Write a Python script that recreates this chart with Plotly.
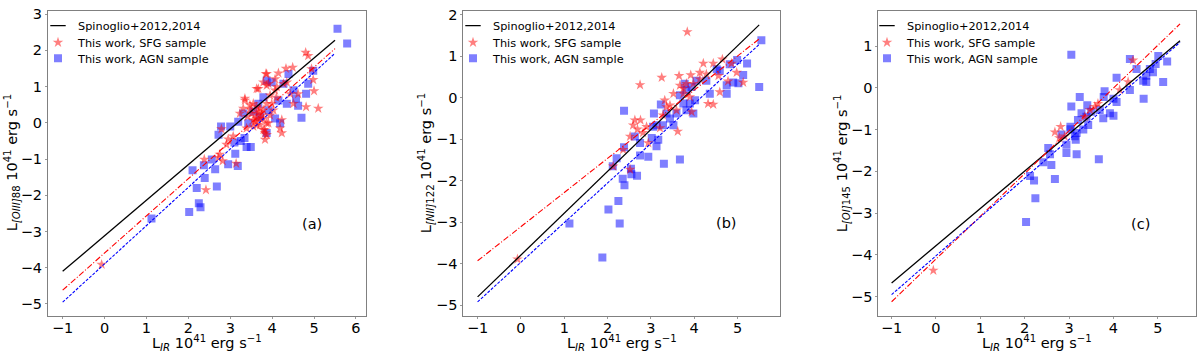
import plotly.graph_objects as go

# ---------------- data ----------------
# Panel (a): [OIII]88
a_sfg_x = [-0.07, 2.42, 2.38, 2.75, 2.72, 2.82, 2.91, 2.79, 3.14, 3.35, 3.47, 3.41, 3.63, 3.71, 3.83, 3.87,
           4.23, 4.23, 4.80, 4.86, 4.94, 4.98, 5.00, 5.10, 4.81, 4.62, 4.49, 4.33, 4.15, 3.87, 3.63, 3.79,
           4.07, 3.95, 3.87, 3.55, 3.71, 4.03, 3.07, 3.63, 3.31, 3.51, 3.79, 3.99, 4.27, 3.87, 4.07, 3.55,
           4.43, 4.51, 4.35, 3.23, 3.79, 3.55, 3.39, 3.91, 2.95, 3.60, 3.75, 4.10, 3.68, 3.82,
           3.85, 3.67, 3.91, 4.11, 3.35, 3.47, 3.63, 3.79, 3.95, 3.71, 3.87, 3.63, 4.19, 3.83]
a_sfg_y = [-3.91, -1.85, -1.01, -0.87, -0.96, -1.05, -0.60, -0.17, -1.12, 0.62, 0.37, 0.17, 0.12, -0.06, -0.46, -0.33,
           -0.28, 0.08, 1.94, 1.85, 1.49, 1.19, 0.88, 0.40, 0.44, 0.80, 1.53, 1.50, 1.37, 1.35, 0.94, 1.12,
           0.90, 0.76, 0.53, 0.53, 0.40, 0.35, -0.37, 0.26, 0.40, 0.26, 0.12, 0.53, 1.08, 1.03, 1.21, 0.08,
           0.80, 0.53, 1.12, 0.26, -0.19, -0.10, -0.15, -0.01, -0.45, 0.05, 0.20, 0.70, 0.30, -0.20,
           1.35, 0.94, 1.08, 0.99, 0.67, 0.49, 0.44, 0.35, 0.21, 0.12, -0.01, -0.06, -0.15, -0.28]
a_agn_x = [5.56, 5.79, 2.02, 2.25, 2.29, 2.20, 2.10, 2.39, 2.68, 2.64, 2.37, 2.56, 2.95, 3.18, 3.12, 3.10,
           2.72, 2.78, 3.34, 3.39, 3.49, 3.31, 3.19, 1.12, 4.62, 4.70, 4.81, 4.86, 4.98, 4.57, 4.39, 4.35,
           3.87, 3.79, 3.87, 4.19, 4.07, 3.71, 3.55, 3.91, 4.15, 4.51, 3.99, 4.27, 3.67, 3.43, 3.00, 3.25]
a_agn_y = [2.60, 2.19, -2.46, -2.22, -2.33, -1.80, -1.31, -1.52, -1.76, -1.28, -1.17, -1.01, -1.14, -1.19, -0.85, -0.54,
           -0.33, -0.10, -0.42, -0.67, -0.67, 0.26, 0.03, -2.64, 0.47, 0.14, 0.80, 1.08, 1.44, 0.67, 1.35, 0.53,
           1.17, 0.71, -0.28, -0.01, 0.12, 0.17, 0.31, 0.35, 0.62, 0.90, 1.12, 1.08, 0.53, -0.01, -0.10, -0.50]

# Panel (b): [NII]122
b_sfg_x = [-0.08, 3.84, 2.75, 3.25, 3.65, 3.92, 4.21, 4.44, 4.65, 4.86, 4.98, 5.13, 4.78, 4.59, 4.32, 4.44,
           3.94, 3.62, 2.52, 2.13, 2.36, 2.52, 2.63, 2.76, 2.69, 2.82, 2.90, 2.94, 3.21, 3.32, 3.36, 3.44,
           3.59, 3.75, 3.82, 3.98, 4.13, 4.28, 3.75, 3.90, 3.28, 3.52, 3.67, 4.13, 4.56, 2.59]
b_sfg_y = [-3.89, 1.59, 0.31, 0.49, 0.53, 0.55, 0.83, 0.83, 0.93, 0.83, 0.61, 0.37, 0.40, 0.14, -0.14, -0.16,
           -0.34, -0.81, -1.73, -1.65, -1.25, -0.93, -0.54, -0.54, -0.76, -0.84, -0.70, -1.09, -0.73, -0.06, -0.22, -0.18,
           -0.30, 0.10, 0.34, 0.34, 0.45, 0.57, 0.22, 0.02, -0.42, 0.10, 0.30, 0.61, 0.53, -0.66]
b_agn_x = [5.55, 5.50, 5.22, 5.13, 4.99, 5.02, 4.82, 4.75, 4.75, 4.90, 4.59, 4.36, 4.52, 4.28, 4.05, 4.02,
           3.98, 3.82, 3.75, 3.82, 3.78, 3.94, 3.90, 3.67, 3.59, 3.44, 3.36, 3.23, 3.07, 3.13, 3.28, 3.52,
           3.05, 3.17, 3.13, 3.02, 2.75, 2.94, 2.75, 2.68, 2.54, 2.55, 2.35, 2.39, 2.38, 2.21, 2.12, 2.25,
           2.02, 2.28, 1.88, 1.12, 2.38, 3.30, 3.67, 2.63]
b_agn_y = [1.39, 0.26, 0.83, 0.55, 0.91, 0.35, 0.81, 0.10, 0.30, 0.37, 0.65, 0.10, 0.69, 0.41, 0.41, -0.06,
           -0.38, -0.30, -0.14, 0.18, 0.34, 0.26, -0.14, 0.06, -0.38, -0.50, -0.38, -0.16, -0.38, -0.66, -0.66, -0.66,
           -0.70, -1.01, -1.17, -0.97, -1.09, -1.42, -1.39, -1.88, -1.71, -1.84, -1.95, -2.11, -1.19, -1.46, -1.65, -2.49,
           -2.69, -3.03, -3.85, -3.03, -0.31, -1.59, -1.49, -0.93]

# Panel (c): [OI]145
c_sfg_x = [-0.06, 4.44, 2.68, 2.81, 2.78, 2.90, 3.35, 3.47, 3.58, 3.65, 4.14, 4.33]
c_sfg_y = [-4.37, 0.66, -1.06, -0.93, -1.20, -1.16, -0.69, -0.53, -0.45, -0.38, -0.05, 0.14]
c_agn_x = [3.05, 5.01, 4.37, 5.21, 4.95, 4.82, 4.89, 4.74, 4.67, 4.74, 4.52, 5.12, 4.68, 4.07, 4.37, 3.80,
           3.24, 4.07, 3.78, 4.00, 3.05, 3.41, 3.28, 3.50, 3.69, 3.92, 4.00, 3.77, 3.39, 3.20, 3.03, 3.03,
           3.43, 3.32, 3.17, 3.13, 3.15, 2.94, 3.17, 2.94, 2.53, 2.57, 2.60, 2.42, 2.68, 2.12, 2.21, 2.24,
           2.03, 3.67, 2.83]
c_agn_y = [0.79, 0.76, 0.69, 0.63, 0.57, 0.45, 0.37, 0.29, 0.17, 0.14, 0.45, 0.14, -0.26, 0.24, -0.05, -0.08,
           -0.22, -0.34, -0.22, -0.26, -0.45, -0.42, -0.61, -0.57, -0.53, -0.61, -0.67, -0.73, -0.69, -0.77, -0.93, -0.99,
           -0.89, -1.00, -1.08, -1.16, -1.24, -1.36, -1.59, -1.56, -1.44, -1.59, -1.85, -1.78, -2.18, -2.11, -2.22, -2.64,
           -3.21, -1.71, -1.12]

# Linear relations (slope, intercept) per panel: [Spinoglio, SFG fit, AGN fit]
fit_x = [-1.0, 5.5]
a_slopes = [0.982, 1.026, 1.057]
a_inters = [-3.118, -3.594, -3.893]
b_slopes = [1.009, 0.823, 0.955]
b_inters = [-3.791, -3.107, -3.965]
c_slopes = [0.892, 1.023, 0.929]
c_inters = [-3.778, -4.097, -4.021]

panel_labels = ["(a)", "(b)", "(c)"]
label_pos_x = [4.94, 4.75, 4.61]
label_pos_y = [-2.78, -3.03, -3.25]
y_titles = ["L<sub><i>[OIII]</i>88</sub> 10<sup>41</sup> erg s<sup>−1</sup>",
            "L<sub><i>[NII]</i>122</sub> 10<sup>41</sup> erg s<sup>−1</sup>",
            "L<sub><i>[OI]</i>145</sub> 10<sup>41</sup> erg s<sup>−1</sup>"]
x_title = "L<sub><i>IR</i></sub> 10<sup>41</sup> erg s<sup>−1</sup>"
legend_names = ["Spinoglio+2012,2014", "This work, SFG sample", "This work, AGN sample"]

x_ranges = [[-1.35, 6.24], [-1.33, 5.98], [-1.30, 5.86]]
y_ranges = [[-5.32, 3.09], [-5.25, 2.095], [-5.45, 1.84]]
x_tickvals = [[-1, 0, 1, 2, 3, 4, 5, 6], [-1, 0, 1, 2, 3, 4, 5], [-1, 0, 1, 2, 3, 4, 5]]
y_tickvals = [[-5, -4, -3, -2, -1, 0, 1, 2, 3], [-5, -4, -3, -2, -1, 0, 1, 2], [-5, -4, -3, -2, -1, 0, 1]]

# ---------------- layout geometry (pixels) ----------------
W, H = 1200, 354
x_dom_px = [(48, 366), (463.3, 780), (878.3, 1196)]
y_dom_px = (6, 315)
legend_x_px = [38, 453, 867]        # left edge of each legend (text starts ~41px further right)
legend_row_px = [21, 38, 54]        # vertical centre of each legend row
ytitle_x_px = [12, 426, 842]        # centre of the rotated y titles
xtitle_y_px = 342.5                 # centre of the x titles

panels = [
    (a_sfg_x, a_sfg_y, a_agn_x, a_agn_y, a_slopes, a_inters),
    (b_sfg_x, b_sfg_y, b_agn_x, b_agn_y, b_slopes, b_inters),
    (c_sfg_x, c_sfg_y, c_agn_x, c_agn_y, c_slopes, c_inters),
]

FONT = "DejaVu Sans"
FS = 14.5
fig = go.Figure()
line_styles = [dict(color="black", width=1.3),
               dict(color="red", width=1.1, dash="6px,2px,1px,2px"),
               dict(color="blue", width=1.1, dash="3px,1.5px")]
legend_markers = [dict(symbol="line-ew-open", size=11, color="black", line=dict(width=1.3, color="black")),
                  dict(symbol="star", size=8, color="red", opacity=0.5, line=dict(width=0)),
                  dict(symbol="square", size=8, color="blue", opacity=0.5, line=dict(width=0))]

for i, (sx, sy, ax, ay, slopes, inters) in enumerate(panels):
    xa = "x" if i == 0 else f"x{i+1}"
    ya = "y" if i == 0 else f"y{i+1}"
    fig.add_trace(go.Scatter(x=ax, y=ay, mode="markers", xaxis=xa, yaxis=ya,
                             marker=dict(symbol="square", size=8, color="blue", opacity=0.5,
                                         line=dict(width=0)),
                             name=legend_names[2], showlegend=False))
    fig.add_trace(go.Scatter(x=sx, y=sy, mode="markers", xaxis=xa, yaxis=ya,
                             marker=dict(symbol="star", size=8, color="red", opacity=0.5,
                                         line=dict(width=0)),
                             name=legend_names[1], showlegend=False))
    for k in range(3):
        fy = [slopes[k] * xv + inters[k] for xv in fit_x]
        fig.add_trace(go.Scatter(x=fit_x, y=fy, mode="lines", xaxis=xa, yaxis=ya,
                                 line=line_styles[k], showlegend=False, hoverinfo="skip"))
    # legend entries: one legend per row for exact placement
    for k in range(3):
        leg_idx = i * 3 + k + 1
        leg = "legend" if leg_idx == 1 else f"legend{leg_idx}"
        fig.add_trace(go.Scatter(x=[None], y=[None], mode="markers", xaxis=xa, yaxis=ya,
                                 marker=legend_markers[k], name=legend_names[k],
                                 legend=leg, showlegend=True))
    fig.add_annotation(x=label_pos_x[i], y=label_pos_y[i], xref=xa, yref=ya, text=panel_labels[i],
                       showarrow=False, font=dict(family=FONT, size=FS, color="black"))
    # axis titles as annotations for precise placement
    x0, x1 = x_dom_px[i]
    fig.add_annotation(x=(x0 + x1) / 2 / W, y=1 - xtitle_y_px / H, xref="paper", yref="paper",
                       text=x_title, showarrow=False, xanchor="center", yanchor="middle",
                       font=dict(family=FONT, size=FS, color="black"))
    fig.add_annotation(x=ytitle_x_px[i] / W, y=1 - (y_dom_px[0] + y_dom_px[1]) / 2 / H,
                       xref="paper", yref="paper", text=y_titles[i], textangle=-90,
                       showarrow=False, xanchor="center", yanchor="middle",
                       font=dict(family=FONT, size=FS, color="black"))

axis_common = dict(showline=True, linecolor="#808080", linewidth=1, mirror=True,
                   ticks="outside", ticklen=2, tickcolor="#999999", tickwidth=1,
                   showgrid=False, zeroline=False,
                   tickfont=dict(family=FONT, size=FS, color="black"))
layout = {}
for i in range(3):
    xk = "xaxis" if i == 0 else f"xaxis{i+1}"
    yk = "yaxis" if i == 0 else f"yaxis{i+1}"
    x0, x1 = x_dom_px[i]
    xa = "x" if i == 0 else f"x{i+1}"
    ya = "y" if i == 0 else f"y{i+1}"
    layout[xk] = dict(domain=[x0 / W, x1 / W], range=x_ranges[i], anchor=ya,
                      tickvals=x_tickvals[i], ticktext=[str(v).replace("-", "−") for v in x_tickvals[i]],
                      ticklabelstandoff=-3, **axis_common)
    layout[yk] = dict(domain=[1 - y_dom_px[1] / H, 1 - y_dom_px[0] / H], range=y_ranges[i], anchor=xa,
                      tickvals=y_tickvals[i], ticktext=[str(v).replace("-", "−") for v in y_tickvals[i]],
                      **axis_common)
    for k in range(3):
        leg_idx = i * 3 + k + 1
        lk = "legend" if leg_idx == 1 else f"legend{leg_idx}"
        layout[lk] = dict(x=legend_x_px[i] / W, y=1 - legend_row_px[k] / H, xanchor="left", yanchor="middle",
                          bgcolor="rgba(255,255,255,0)", borderwidth=0,
                          font=dict(family=FONT, size=11.3, color="black"), itemwidth=30)

fig.update_layout(width=W, height=H, margin=dict(l=0, r=0, t=0, b=0),
                  paper_bgcolor="white", plot_bgcolor="white", showlegend=True, **layout)
fig.write_html("out.html", config={"displayModeBar": False},
               post_script="document.body.style.margin='0';document.body.style.overflow='hidden';")
